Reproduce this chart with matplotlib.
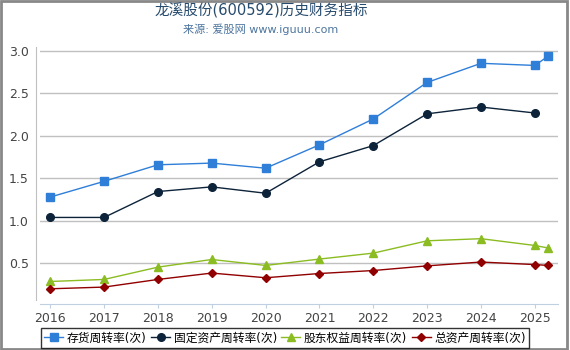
import matplotlib
matplotlib.use('Agg')
import matplotlib.pyplot as plt
from matplotlib.patches import Rectangle

plt.rcParams['font.family'] = ['DejaVu Sans', 'Noto Sans CJK SC']

# x positions (year-end reports, last one is Q1 2025)
years = [2016, 2017, 2018, 2019, 2020, 2021, 2022, 2023, 2024, 2025, 2025.25]
xticks = [2016, 2017, 2018, 2019, 2020, 2021, 2022, 2023, 2024, 2025]

inventory = [1.28, 1.465, 1.66, 1.68, 1.62, 1.895, 2.20, 2.63, 2.855, 2.83, 2.94]
fixed_assets = [1.04, 1.04, 1.345, 1.40, 1.325, 1.695, 1.886, 2.26, 2.34, 2.27]
equity = [0.286, 0.31, 0.455, 0.545, 0.475, 0.55, 0.62, 0.765, 0.79, 0.71, 0.68]
total_assets = [0.20, 0.22, 0.31, 0.385, 0.33, 0.38, 0.415, 0.47, 0.515, 0.485, 0.475]

labels = ['存货周转率(次)', '固定资产周转率(次)', '股东权益周转率(次)', '总资产周转率(次)']
colors = ['#2f7ed8', '#0d233a', '#8bbc21', '#910000']

fig = plt.figure(figsize=(5.7, 3.5), dpi=100)
ax = fig.add_axes([40 / 570, 1 - 300 / 350, 518 / 570, 253 / 350])

ax.plot(years, inventory, color=colors[0], lw=1, marker='s', ms=5.5, label=labels[0])
ax.plot(years[:len(fixed_assets)], fixed_assets, color=colors[1], lw=1, marker='o', ms=5.5, label=labels[1])
ax.plot(years, equity, color=colors[2], lw=1, marker='^', ms=6, label=labels[2])
ax.plot(years, total_assets, color=colors[3], lw=1, marker='D', ms=4.5, label=labels[3])

ax.set_xlim(2015.81, 2025.43)
ax.set_ylim(0.068, 3.047)
ax.set_xticks(xticks)
ax.set_xticklabels([str(y) for y in xticks])
ax.set_yticks([0.5, 1.0, 1.5, 2.0, 2.5, 3.0])
ax.set_yticklabels(['0.5', '1.0', '1.5', '2.0', '2.5', '3.0'])
ax.grid(axis='y', color='#c0c0c0', lw=1)
ax.set_axisbelow(True)

for s in ['top', 'right']:
    ax.spines[s].set_visible(False)
ax.spines['left'].set_position(('outward', 2.9))
ax.spines['bottom'].set_position(('outward', 2.9))
ax.spines['left'].set_color('#c0c0c0')
ax.spines['bottom'].set_color('#c0d0e0')
ax.tick_params(axis='y', length=0, pad=5, labelsize=9, labelcolor='#444444')
ax.tick_params(axis='x', length=3, color='#c0d0e0', pad=3, labelsize=9, labelcolor='#444444')

fig.text(261 / 570, 1 - 11 / 350, '龙溪股份(600592)历史财务指标', ha='center', va='center',
         fontsize=10.5, color='#274b6d')
fig.text(261 / 570, 1 - 29 / 350, '来源: 爱股网 www.iguuu.com', ha='center', va='center',
         fontsize=8, color='#4d759e')

leg = fig.legend(loc='center', bbox_to_anchor=(285 / 570, 1 - 338 / 350), ncol=4,
                 fontsize=8.5, frameon=True, fancybox=False, handlelength=1.6,
                 handletextpad=0.3, columnspacing=0.4, borderpad=0.3)
leg.get_frame().set_edgecolor('black')
leg.get_frame().set_linewidth(1)

# outer grey border
fig.patches.append(Rectangle((0.001, 0.003), 0.993, 0.995, transform=fig.transFigure,
                             fill=False, edgecolor='#888888', lw=2))

fig.savefig('out.png', dpi=100)
